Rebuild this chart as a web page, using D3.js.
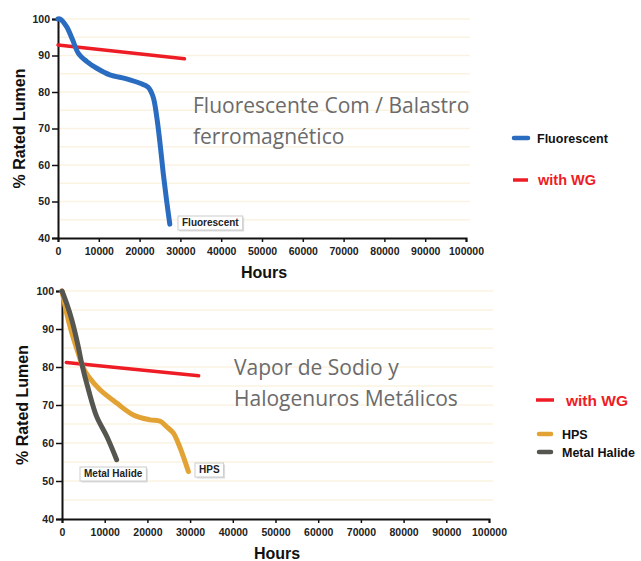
<!DOCTYPE html>
<html>
<head>
<meta charset="utf-8">
<script src="https://cdn.jsdelivr.net/npm/d3@7"></script>
<style>
  body { margin: 0; background: #fff; }
  svg text { font-family: Arial, "Liberation Sans", sans-serif; }
  .tick text { font-weight: bold; font-size: 10.5px; fill: #222; }
  .axis-title { font-weight: bold; font-size: 16px; fill: #111; }
  .note { font-family: "Open Sans", sans-serif !important; font-size: 21px; fill: #6b6b6b; }
</style>
</head>
<body>
<div id="chart"></div>
<script>
// x ticks and y ticks shared by both panels
var hourTicks = [0, 10000, 20000, 30000, 40000, 50000, 60000, 70000, 80000, 90000, 100000];
var lumenTicks = [40, 50, 60, 70, 80, 90, 100];

// top panel: fluorescent lamp, magnetic ballast
var fluorescent = [
  [0, 100], [500, 100], [2100, 97.9], [3500, 94.5], [5000, 90.6], [7000, 88.4], [9500, 86.5],
  [12700, 84.7], [16800, 83.6], [20100, 82.4], [22100, 81.3], [23300, 78.7],
  [24200, 73.2], [25000, 66.0], [25800, 57.7], [26600, 50.4], [27400, 43.8]
];
var withWgTop = [[0, 92.9], [31000, 89.1]];

// bottom panel: HPS and metal halide
var hps = [
  [0, 100], [1100, 94.1], [2300, 88.9], [3800, 83.6], [5000, 79.7], [6200, 77.5],
  [8900, 74.0], [12800, 70.5], [16700, 67.4], [20600, 66.1], [23000, 65.7],
  [24500, 64.3], [26100, 62.6], [27200, 60.0], [28400, 56.5], [29600, 52.5]
];
var metalHalide = [
  [0, 100], [1000, 97], [2300, 92.4], [3800, 85.4], [4600, 81.0], [6200, 74.0],
  [8100, 67.0], [10500, 61.7], [12800, 55.6]
];
var withWgBottom = [[1000, 81.2], [32000, 77.7]];

var W = 641, H = 561;
var svg = d3.select("#chart").append("svg")
    .attr("width", W)
    .attr("height", H);

function drawPanel(p) {
    var x = d3.scaleLinear().domain([0, 100000]).range([p.left, p.right]);
    var y = d3.scaleLinear().domain([40, 100]).range([p.bottom, p.top]);
    var g = svg.append("g");

    // faint cream gridlines every 5 %
    g.selectAll("line.grid")
        .data(d3.range(45, 101, 5))
        .enter().append("line")
        .attr("class", "grid")
        .attr("x1", p.left + 2).attr("x2", p.right + 4)
        .attr("y1", function (d) { return y(d); })
        .attr("y2", function (d) { return y(d); })
        .attr("stroke", "#fbf3e2")
        .attr("stroke-width", 1.5);

    var xAxis = g.append("g")
        .attr("transform", "translate(0," + p.bottom + ")")
        .call(d3.axisBottom(x).tickValues(hourTicks).tickSize(4).tickPadding(6).tickFormat(d3.format("d")));
    var yAxis = g.append("g")
        .attr("transform", "translate(" + p.left + ",0)")
        .call(d3.axisLeft(y).tickValues(lumenTicks).tickSize(6).tickPadding(2));
    [xAxis, yAxis].forEach(function (a) {
        a.select(".domain").attr("stroke", "#111").attr("stroke-width", 2);
        a.selectAll(".tick line").attr("stroke", "#111").attr("stroke-width", 1.5);
    });

    g.append("text").attr("class", "axis-title")
        .attr("x", p.hoursX).attr("y", p.hoursY)
        .attr("text-anchor", "middle")
        .text("Hours");
    g.append("text").attr("class", "axis-title")
        .attr("transform", "translate(" + p.ylabX + "," + ((p.top + p.bottom) / 2) + ") rotate(-90)")
        .attr("text-anchor", "middle")
        .text("% Rated Lumen");

    var line = d3.line()
        .x(function (d) { return x(d[0]); })
        .y(function (d) { return y(d[1]); })
        .curve(d3.curveCatmullRom);

    p.series.forEach(function (s) {
        g.append("path")
            .datum(s.data)
            .attr("fill", "none")
            .attr("stroke", s.color)
            .attr("stroke-width", s.width)
            .attr("stroke-linecap", "round")
            .attr("d", line);
    });

    // boxed end labels
    p.tags.forEach(function (t) {
        var tg = g.append("g").attr("transform", "translate(" + t.x + "," + t.y + ")");
        var txt = tg.append("text")
            .attr("x", 4).attr("y", 10)
            .attr("font-size", 10).attr("font-weight", "bold").attr("fill", "#222")
            .text(t.label);
        var w = txt.node().getComputedTextLength() + 8;
        tg.insert("rect", "text")
            .attr("x", 1.5).attr("y", 1.5).attr("width", w).attr("height", 14)
            .attr("fill", "#ddd");
        tg.insert("rect", "text")
            .attr("width", w).attr("height", 14)
            .attr("fill", "#fff").attr("stroke", "#ccc");
    });

    p.notes.forEach(function (n, i) {
        g.append("text").attr("class", "note")
            .attr("x", p.noteX).attr("y", p.noteY + i * 31)
            .text(n);
    });

    p.legend.forEach(function (l) {
        g.append("line")
            .attr("x1", l.x).attr("x2", l.x + l.len)
            .attr("y1", l.y).attr("y2", l.y)
            .attr("stroke", l.color).attr("stroke-width", l.sw)
            .attr("stroke-linecap", l.cap);
        g.append("text")
            .attr("x", l.x + l.len + l.gap).attr("y", l.y + l.fs * 0.36)
            .attr("font-size", l.fs).attr("font-weight", "bold")
            .attr("font-family", l.font)
            .attr("fill", l.textColor)
            .text(l.label);
    });
}

drawPanel({
    left: 58, right: 466, top: 19, bottom: 238,
    hoursX: 264, hoursY: 278, ylabX: 25,
    series: [
        { data: withWgTop, color: "#ee1c25", width: 3.5 },
        { data: fluorescent, color: "#2a6cc0", width: 5 }
    ],
    tags: [{ label: "Fluorescent", x: 178, y: 216 }],
    notes: ["Fluorescente Com / Balastro", "ferromagnético"],
    noteX: 193, noteY: 113,
    legend: [
        { x: 514, y: 138, len: 14, gap: 9, sw: 4.5, cap: "round", color: "#2a6cc0", label: "Fluorescent", fs: 12.5, textColor: "#111", font: "Arial, Liberation Sans, sans-serif" },
        { x: 513, y: 180, len: 15, gap: 10, sw: 3.5, cap: "butt", color: "#ee1c25", label: "with WG", fs: 14.5, textColor: "#ee1c25", font: "Open Sans, sans-serif" }
    ]
});

drawPanel({
    left: 62, right: 489, top: 291, bottom: 519,
    hoursX: 277, hoursY: 559, ylabX: 28,
    series: [
        { data: withWgBottom, color: "#ee1c25", width: 3.5 },
        { data: hps, color: "#e2a234", width: 5 },
        { data: metalHalide, color: "#555650", width: 5 }
    ],
    tags: [
        { label: "Metal Halide", x: 80, y: 467 },
        { label: "HPS", x: 195, y: 463 }
    ],
    notes: ["Vapor de Sodio y", "Halogenuros Metálicos"],
    noteX: 234, noteY: 375,
    legend: [
        { x: 536, y: 400, len: 18, gap: 12, sw: 3.5, cap: "butt", color: "#ee1c25", label: "with WG", fs: 15.5, textColor: "#ee1c25", font: "Open Sans, sans-serif" },
        { x: 539, y: 434, len: 12, gap: 11, sw: 4.5, cap: "round", color: "#e2a234", label: "HPS", fs: 12.5, textColor: "#111", font: "Arial, Liberation Sans, sans-serif" },
        { x: 539, y: 452, len: 12, gap: 11, sw: 4.5, cap: "round", color: "#555650", label: "Metal Halide", fs: 12.5, textColor: "#111", font: "Arial, Liberation Sans, sans-serif" }
    ]
});
</script>
</body>
</html>
